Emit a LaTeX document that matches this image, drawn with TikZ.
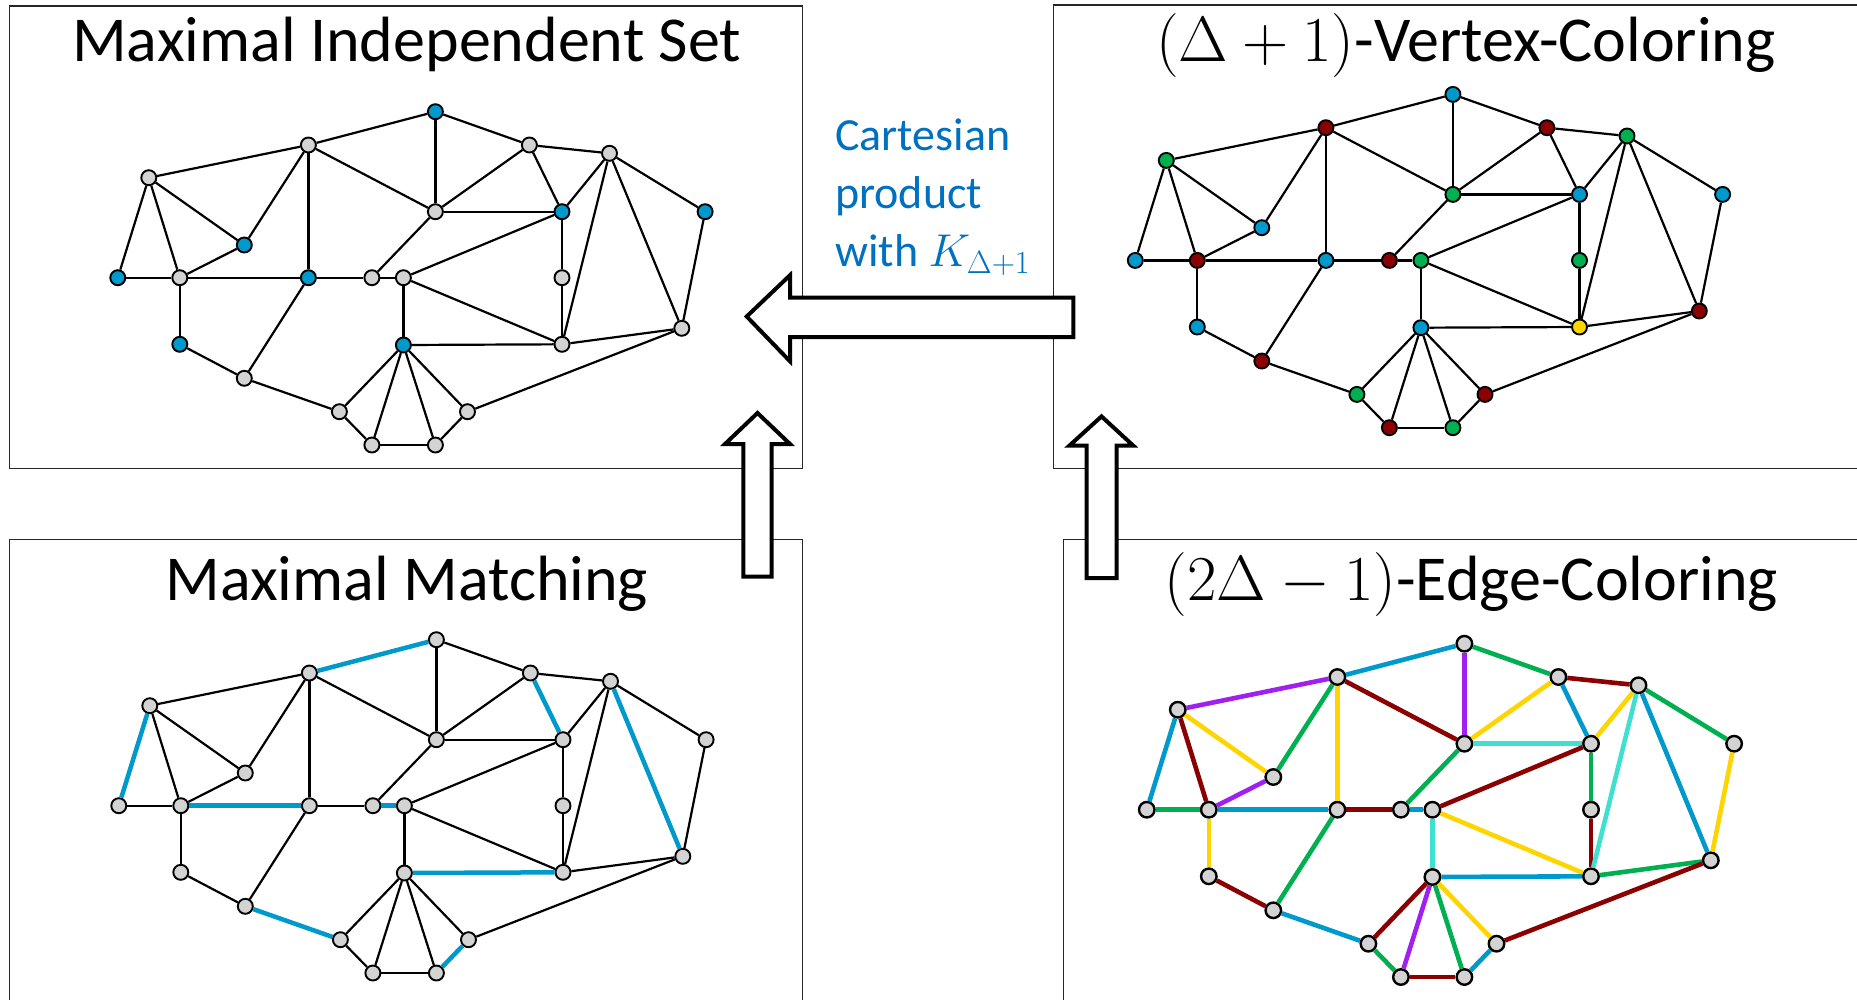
\RequirePackage{fix-cm}
\documentclass[tikz,border=0pt]{standalone}
\usepackage{fontspec}
\setmainfont{Carlito}
\definecolor{mblue}{RGB}{0,153,204}
\definecolor{dred}{RGB}{139,0,0}
\definecolor{cgreen}{RGB}{0,176,80}
\definecolor{cyel}{RGB}{255,213,0}
\definecolor{cpur}{RGB}{160,32,240}
\definecolor{ctur}{RGB}{64,224,208}
\definecolor{ngray}{RGB}{211,211,211}
\definecolor{tblue}{RGB}{0,112,192}
\begin{document}
\begin{tikzpicture}[x=1pt,y=-1pt,
  vtx/.style={circle,draw=black,line width=1.9pt,minimum size=15pt,inner sep=0pt},
  vtxb/.style={circle,draw=black,line width=2.4pt,minimum size=15.5pt,inner sep=0pt},
  panel/.style={draw=black!85,line width=1.4pt},
  ttl/.style={anchor=base,inner sep=0pt,font=\fontsize{64}{72}\selectfont},
  cart/.style={anchor=base west,inner sep=0pt,text=tblue,font=\fontsize{46}{58}\selectfont},
  barrow/.style={draw=black,fill=white,line width=4pt,line join=miter},
  edg/.style={line width=2.2pt,draw=black}]
\useasboundingbox (0,0) rectangle (1857,999);
\clip (0,0) rectangle (1857,999);
\fill[white] (0,0) rectangle (1857,999);

% panels
\draw[panel] (9.3,6) rectangle (802.3,468.7);
\draw[panel] (1053.3,5) rectangle (1875,468.7);
\draw[panel] (9.3,539.3) rectangle (802.3,1015);
\draw[panel] (1063.3,539.3) rectangle (1875,1015);

% titles
\node[ttl] (t1) at (406.8,61.7) {Maximal Independent Set};
\node[ttl] (t2) at (1465.8,61.7) {$(\Delta+1)$-Vertex-Coloring};
\node[ttl] (t3) at (406.8,600) {Maximal Matching};
\node[ttl] (t4) at (1471.3,600.7) {$(2\Delta-1)$-Edge-Coloring};

\def\Nodes{a/435.4/111.7/mblue/mblue, b/308.4/145/ngray/dred, c/529.4/145/ngray/dred,
 d/609.5/153.3/ngray/cgreen, e/148.8/177.7/ngray/cgreen, f/435.4/211.7/ngray/cgreen,
 g/562/211.7/mblue/mblue, h/705.1/211.7/mblue/mblue, i/244.3/245/mblue/mblue,
 j/117.8/277.7/mblue/mblue, k/179.8/277.7/ngray/dred, l/308.4/277.7/mblue/mblue,
 m/371.9/277.7/ngray/dred, n/403.4/277.7/ngray/cgreen, o/562/277.7/ngray/cgreen,
 p/681.8/328.3/ngray/dred, q/179.8/344.3/mblue/mblue, r/403.4/345/mblue/mblue,
 s/562/344.3/ngray/cyel, t/244.3/378.3/ngray/dred, u/339.4/411.7/ngray/cgreen,
 v/467.5/411.7/ngray/dred, w/371.9/445/ngray/dred, x/435.4/445/ngray/cgreen}

\def\Edges{e/b, b/a, a/c, c/d, a/f, b/f, b/l, b/i, e/i, e/j, e/k, i/k, j/k, k/l, l/m, m/n,
 f/m, f/c, f/g, c/g, g/d, g/o, o/s, g/n, d/s, d/p, d/h, h/p, n/r, n/s, r/s, s/p,
 k/q, q/t, t/l, t/u, r/u, r/w, r/x, r/v, u/w, w/x, x/v, v/p}

% panel 1: MIS
\begin{scope}
\foreach \n/\x/\y/\ca/\cb in \Nodes {\node[vtx,fill=\ca] (A\n) at (\x,\y) {};}
\end{scope}
\foreach \u/\v in \Edges {\draw[edg] (A\u) -- (A\v);}

% panel 2: vertex coloring
\begin{scope}[shift={(1017.5,-17.3)}]
\foreach \n/\x/\y/\ca/\cb in \Nodes {\node[vtx,fill=\cb] (B\n) at (\x,\y) {};}
\end{scope}
\foreach \u/\v in \Edges {\draw[edg] (B\u) -- (B\v);}

% panel 3: matching
\begin{scope}[shift={(1,528)}]
\foreach \n/\x/\y/\ca/\cb in \Nodes {\node[vtx,fill=ngray] (C\n) at (\x,\y) {};}
\end{scope}
\foreach \u/\v/\c/\w in {e/b/black/2.2, b/a/mblue/4.5, a/c/black/2.2, c/d/black/2.2,
 a/f/black/2.2, b/f/black/2.2, b/l/black/2.2, b/i/black/2.2, e/i/black/2.2, e/j/mblue/4.5,
 e/k/black/2.2, i/k/black/2.2, j/k/black/2.2, k/l/mblue/4.5, l/m/black/2.2, m/n/mblue/4.5,
 f/m/black/2.2, f/c/black/2.2, f/g/black/2.2, c/g/mblue/4.5, g/d/black/2.2, g/o/black/2.2,
 o/s/black/2.2, g/n/black/2.2, d/s/black/2.2, d/p/mblue/4.5, d/h/black/2.2, h/p/black/2.2,
 n/r/black/2.2, n/s/black/2.2, r/s/mblue/4.5, s/p/black/2.2, k/q/black/2.2, q/t/black/2.2,
 t/l/black/2.2, t/u/mblue/4.5, r/u/black/2.2, r/w/black/2.2, r/x/black/2.2, r/v/black/2.2,
 u/w/black/2.2, w/x/black/2.2, x/v/mblue/4.5, v/p/black/2.2}
 {\draw[draw=\c,line width=\w pt] (C\u) -- (C\v);}

% panel 4: edge coloring
\begin{scope}[shift={(1029,532)}]
\foreach \n/\x/\y/\ca/\cb in \Nodes {\node[vtxb,fill=ngray] (D\n) at (\x,\y) {};}
\end{scope}
\foreach \u/\v/\c in {e/b/cpur, b/a/mblue, a/c/cgreen, c/d/dred, a/f/cpur, b/f/dred,
 b/l/cyel, b/i/cgreen, e/i/cyel, e/j/mblue, e/k/dred, i/k/cpur, j/k/cgreen, k/l/mblue,
 l/m/dred, m/n/mblue, f/m/cgreen, f/c/cyel, f/g/ctur, c/g/mblue, g/d/cyel, g/o/cgreen,
 o/s/dred, g/n/dred, d/s/ctur, d/p/mblue, d/h/cgreen, h/p/cyel, n/r/ctur, n/s/cyel,
 r/s/mblue, s/p/cgreen, k/q/cyel, q/t/dred, t/l/cgreen, t/u/mblue, r/u/dred, r/w/cpur,
 r/x/cgreen, r/v/cyel, u/w/cgreen, w/x/dred, x/v/mblue, v/p/dred}
 {\draw[draw=\c,line width=4.6pt] (D\u) -- (D\v);}

% block arrows
\draw[barrow] (746.7,316.5) -- (790,275.2) -- (790,297.6) -- (1073.3,297.6)
  -- (1073.3,337.2) -- (790,337.2) -- (790,361.3) -- cycle;
\draw[barrow] (757.5,413) -- (790,444) -- (771.7,444) -- (771.7,576.5)
  -- (743.3,576.5) -- (743.3,444) -- (725,444) -- cycle;
\draw[barrow] (1101.5,416.4) -- (1133.3,445.7) -- (1116.7,445.7) -- (1116.7,578.2)
  -- (1086.7,578.2) -- (1086.7,445.7) -- (1069.3,445.7) -- cycle;

% label
\node[cart] (c1) at (835,150.2) {Cartesian};
\node[cart] (c2) at (835,208.8) {product};
\node[cart] (c3) at (835,266.6) {with $K_{\Delta+1}$};
\end{tikzpicture}
\end{document}
